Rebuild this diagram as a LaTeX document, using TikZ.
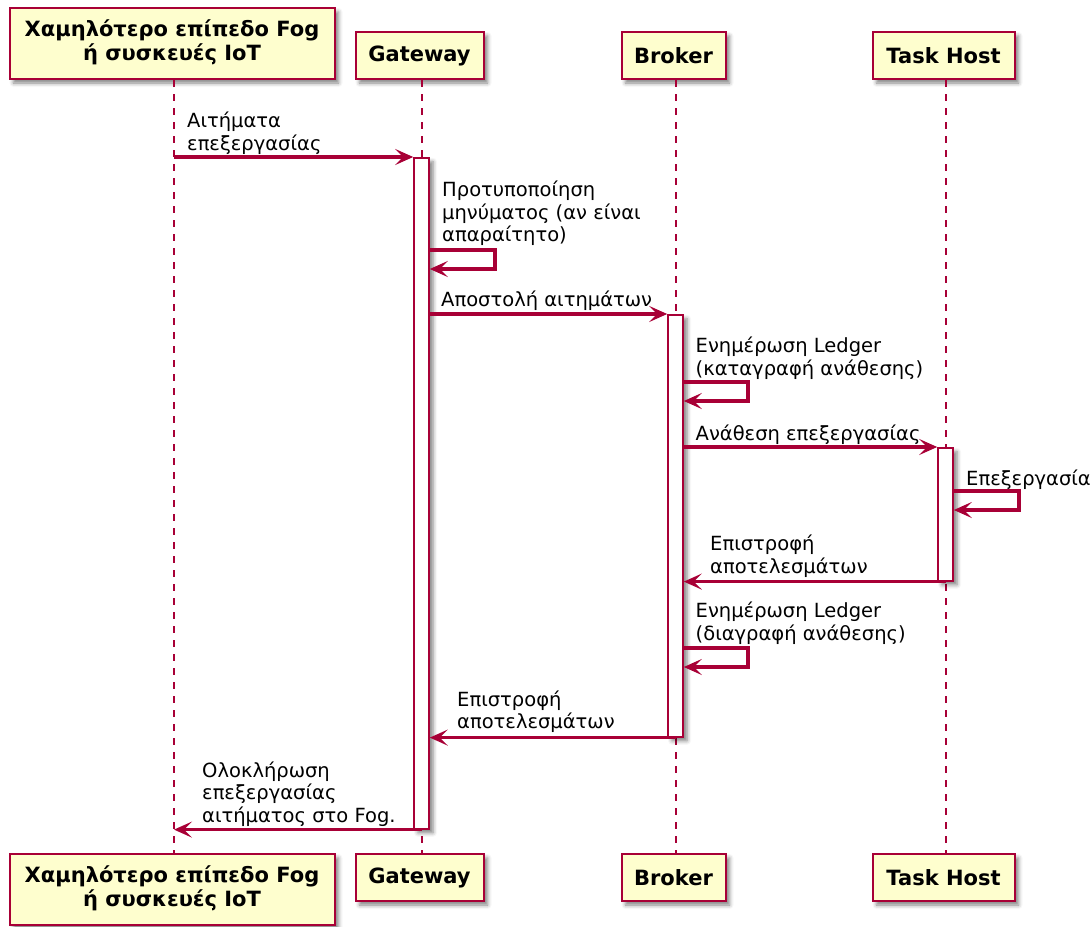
\documentclass[tikz,border=0pt]{standalone}
\usepackage{fontspec}
\setmainfont{DejaVu Sans}
\usetikzlibrary{arrows.meta,shadows.blur}
\definecolor{umlred}{HTML}{A80036}
\definecolor{umlfill}{HTML}{FEFECE}
% multi-line labels: [b] puts the base on the last line
\newcommand\msglines[1]{\begin{tabular}[b]{@{}l@{}}#1\end{tabular}}
\newcommand\partlines[1]{\begin{tabular}{@{}c@{}}#1\end{tabular}}
\begin{document}
\begin{tikzpicture}[x=1pt,y=-1pt,
  softshadow/.style={blur shadow={shadow xshift=4pt,shadow yshift=-4pt,shadow blur radius=4pt,shadow opacity=50}},
  part/.style={draw=umlred,line width=2pt,fill=umlfill,inner sep=0pt,minimum height=47pt,
    font=\fontsize{21}{24.5}\selectfont\bfseries,softshadow},
  actbar/.style={draw=umlred,line width=1.6pt,fill=white,inner sep=0pt,minimum width=15pt,anchor=north,softshadow},
  lifeline/.style={draw=umlred,line width=2pt,dash pattern=on 7pt off 7pt},
  msg/.style={draw=umlred,line width=3.6pt,line join=miter,-{Stealth[length=18pt,width=16pt,inset=8pt]}},
  lbl/.style={anchor=base west,inner sep=0pt,font=\fontsize{19.5}{22.5}\selectfont}
]
\useasboundingbox (0,0) rectangle (1091,926);

% lifeline positions
\coordinate (l1) at (174,0);
\coordinate (l2) at (421.5,0);
\coordinate (l3) at (675.5,0);
\coordinate (l4) at (945.5,0);

% participants, top and bottom
\node[part,minimum width=325pt,minimum height=71pt] (p1t) at (172,43.5) {\partlines{Χαμηλότερο επίπεδο Fog\\ή συσκευές IoT}};
\node[part,minimum width=128pt] (p2t) at (419.5,55.5) {Gateway};
\node[part,minimum width=104pt] (p3t) at (673.5,55.5) {Broker};
\node[part,minimum width=142pt] (p4t) at (943.5,55.5) {Task Host};
\node[part,minimum width=325pt,minimum height=71pt] (p1b) at (172,889.5) {\partlines{Χαμηλότερο επίπεδο Fog\\ή συσκευές IoT}};
\node[part,minimum width=128pt] (p2b) at (419.5,877.5) {Gateway};
\node[part,minimum width=104pt] (p3b) at (673.5,877.5) {Broker};
\node[part,minimum width=142pt] (p4b) at (943.5,877.5) {Task Host};

% lifelines
\draw[lifeline] (p1t.south -| l1) -- (p1b.north -| l1);
\draw[lifeline] (p2t.south -| l2) -- (p2b.north -| l2);
\draw[lifeline] (p3t.south -| l3) -- (p3b.north -| l3);
\draw[lifeline] (p4t.south -| l4) -- (p4b.north -| l4);

% activation bars
\node[actbar,minimum height=671pt] (ga) at (421.5,157) {};
\node[actbar,minimum height=422pt] (ba) at (675.5,314) {};
\node[actbar,minimum height=133pt] (ta) at (945.5,447) {};

% messages
\draw[msg] (ga.north west -| l1) -- (ga.north west);
\node[lbl] (m1) at (187,150) {\msglines{Αιτήματα\\επεξεργασίας}};

\coordinate (s1a) at (495,250);
\coordinate (s1b) at (495,269);
\draw[msg] (ga.east |- s1a) -- (s1a) -- (s1b) -- (ga.east |- s1b);
\node[lbl] (m2) at (442,241.5) {\msglines{Προτυποποίηση\\μηνύματος (αν είναι\\απαραίτητο)}};

\draw[msg] (ba.north west -| ga.east) -- (ba.north west);
\node[lbl] (m3) at (441,306.5) {Αποστολή αιτημάτων};

\coordinate (s2a) at (748,382);
\coordinate (s2b) at (748,401);
\draw[msg] (ba.east |- s2a) -- (s2a) -- (s2b) -- (ba.east |- s2b);
\node[lbl] (m4) at (695.5,375) {\msglines{Ενημέρωση Ledger\\(καταγραφή ανάθεσης)}};

\draw[msg] (ta.north west -| ba.east) -- (ta.north west);
\node[lbl] (m5) at (695.5,440) {Ανάθεση επεξεργασίας};

\coordinate (s3a) at (1019,491);
\coordinate (s3b) at (1019,510);
\draw[msg] (ta.east |- s3a) -- (s3a) -- (s3b) -- (ta.east |- s3b);
\node[lbl] (m6) at (966,485) {Επεξεργασία};

\draw[msg] (ta.south) -- (ta.south -| ba.east);
\node[lbl] (m7) at (710,573) {\msglines{Επιστροφή\\αποτελεσμάτων}};

\coordinate (s4a) at (748,648);
\coordinate (s4b) at (748,667);
\draw[msg] (ba.east |- s4a) -- (s4a) -- (s4b) -- (ba.east |- s4b);
\node[lbl] (m8) at (695.5,640) {\msglines{Ενημέρωση Ledger\\(διαγραφή ανάθεσης)}};

\draw[msg] (ba.south) -- (ba.south -| ga.east);
\node[lbl] (m9) at (457,728.5) {\msglines{Επιστροφή\\αποτελεσμάτων}};

\draw[msg] (ga.south) -- (ga.south -| l1);
\node[lbl] (m10) at (202,822) {\msglines{Ολοκλήρωση\\επεξεργασίας\\αιτήματος στο Fog.}};
\end{tikzpicture}
\end{document}
